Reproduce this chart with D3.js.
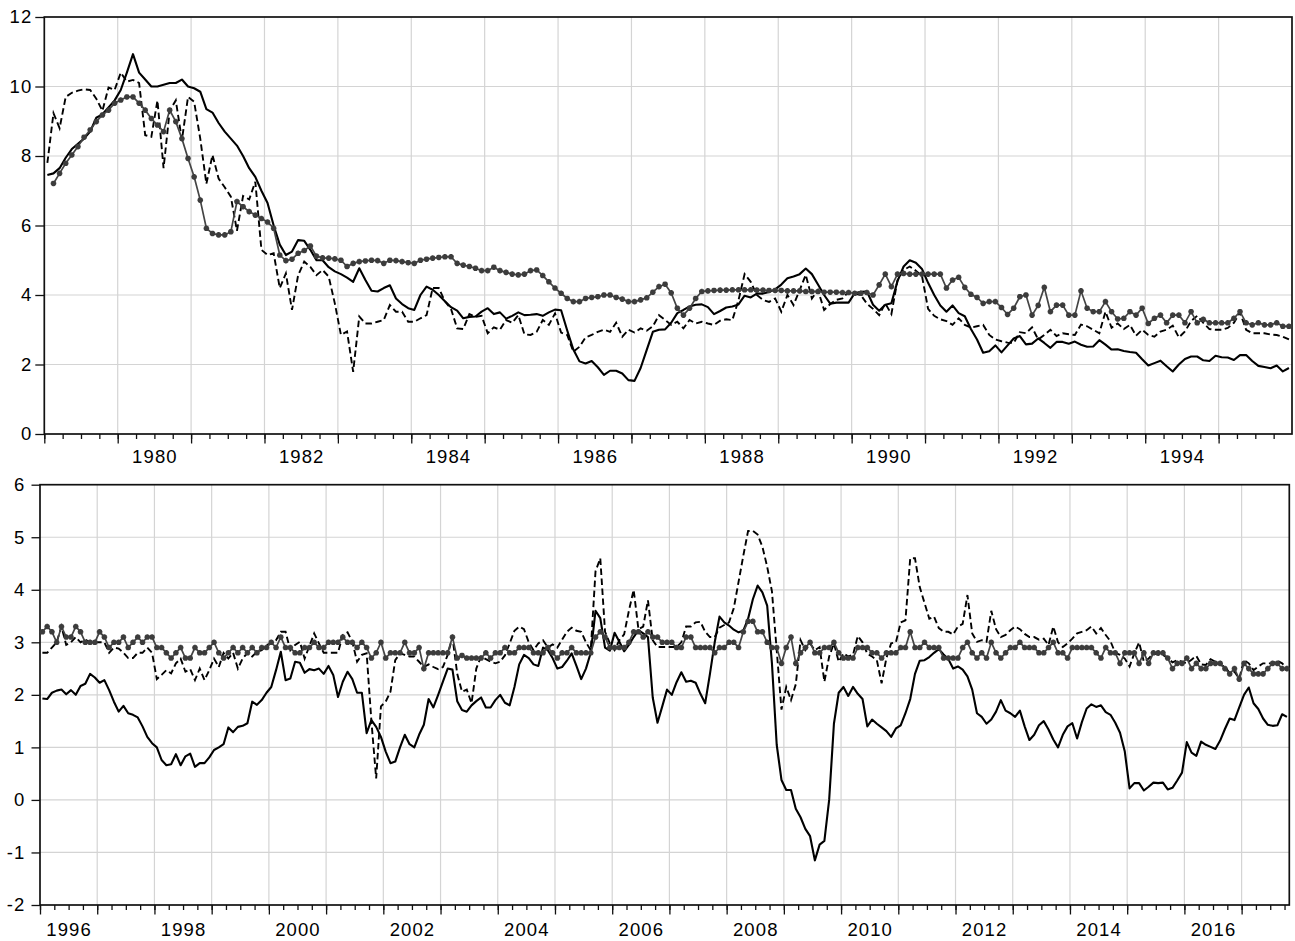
<!DOCTYPE html>
<html>
<head>
<meta charset="utf-8">
<script src="https://cdn.jsdelivr.net/npm/d3@7"></script>
<style>
  body { margin: 0; background: #fff; }
  .chart text { font-family: "Liberation Sans", Arial, Helvetica, sans-serif; font-size: 18.5px; letter-spacing: 1.1px; fill: #000; }
</style>
</head>
<body>
<div class="chart"></div>
<script>
// ---------------------------------------------------------------
// monthly data, one row per year
// top panel: Jan 1979 - Dec 1995
var topStartYear = 1979;
var topSolid = [
  7.45, 7.5, 7.65, 7.95, 8.2, 8.35, 8.5, 8.7, 9.1, 9.2, 9.4, 9.6,
  9.9, 10.4, 10.93, 10.4, 10.2, 10.0, 10.0, 10.05, 10.1, 10.1, 10.2, 10.0,
  9.95, 9.85, 9.35, 9.25, 8.95, 8.7, 8.5, 8.3, 8.0, 7.65, 7.4, 7.0,
  6.65, 6.0, 5.45, 5.15, 5.25, 5.58, 5.56, 5.3, 5.0, 5.0, 4.8, 4.68,
  4.6, 4.5, 4.38, 4.77, 4.43, 4.12, 4.1, 4.2, 4.28, 3.9, 3.74, 3.62,
  3.57, 4.0, 4.24, 4.15, 4.0, 3.82, 3.65, 3.55, 3.33, 3.37, 3.38, 3.52,
  3.62, 3.45, 3.5, 3.32, 3.4, 3.5, 3.42, 3.43, 3.45, 3.4, 3.5, 3.58,
  3.56, 2.98, 2.43, 2.09, 2.03, 2.1, 1.92, 1.7, 1.82, 1.82, 1.74, 1.55,
  1.53, 1.9, 2.42, 2.94, 3.0, 3.01, 3.2, 3.48, 3.57, 3.67, 3.72, 3.73,
  3.65, 3.45, 3.54, 3.64, 3.67, 3.73, 3.98, 3.93, 4.04, 4.04, 4.09, 4.16,
  4.3, 4.48, 4.53, 4.6, 4.76, 4.6, 4.3, 4.0, 3.75, 3.78, 3.78, 3.78,
  4.05, 4.09, 4.1, 3.72, 3.55, 3.72, 3.76, 4.4, 4.82, 5.0, 4.93, 4.75,
  4.35, 4.0, 3.7, 3.52, 3.7, 3.48, 3.39, 3.02, 2.72, 2.34, 2.38, 2.55,
  2.35, 2.55, 2.75, 2.82, 2.58, 2.6, 2.75, 2.62, 2.48, 2.65, 2.65, 2.6,
  2.66, 2.57, 2.51, 2.52, 2.7, 2.57, 2.43, 2.44, 2.39, 2.36, 2.34, 2.15,
  1.97, 2.04, 2.11, 1.95, 1.8, 2.0, 2.16, 2.23, 2.23, 2.12, 2.1, 2.25,
  2.21, 2.2, 2.13, 2.27, 2.27, 2.1, 1.96, 1.93, 1.89, 1.97, 1.8, 1.9
];
var topDashed = [
  7.8, 9.23, 8.8, 9.7, 9.82, 9.88, 9.92, 9.9, 9.65, 9.3, 9.97, 9.9,
  10.4, 10.14, 10.19, 10.1, 8.6, 8.55, 9.6, 7.65, 9.3, 9.6, 8.46, 9.7,
  9.56, 8.5, 7.2, 8.03, 7.35, 7.1, 6.83, 5.85, 6.85, 6.75, 7.26, 5.3,
  5.15, 5.2, 4.2, 4.62, 3.57, 4.57, 4.96, 4.81, 4.57, 4.72, 4.53, 3.76,
  2.85, 2.95, 1.79, 3.38, 3.18, 3.18, 3.23, 3.28, 3.71, 3.52, 3.52, 3.23,
  3.23, 3.33, 3.42, 4.2, 4.2, 3.82, 3.6, 3.04, 3.02, 3.45, 3.37, 3.4,
  2.9, 3.07, 3.0, 3.28, 3.2, 3.42, 2.87, 2.85, 2.94, 3.28, 3.14, 3.47,
  2.92, 2.85, 2.37, 2.51, 2.78, 2.85, 2.94, 3.0, 2.94, 3.2, 2.8, 3.0,
  2.92, 3.04, 2.97, 3.1, 3.42, 3.28, 3.14, 3.23, 3.04, 3.28, 3.18, 3.23,
  3.18, 3.14, 3.26, 3.3, 3.28, 3.85, 4.6, 4.38, 4.0, 3.86, 3.8, 3.9,
  3.52, 4.0, 3.71, 4.14, 4.58, 3.9, 4.14, 3.57, 3.74, 3.86, 3.9, 4.09,
  4.04, 4.0, 3.75, 3.6, 3.42, 3.76, 3.45, 4.43, 4.72, 4.82, 4.7, 4.55,
  3.6, 3.4, 3.3, 3.25, 3.14, 3.33, 3.14, 3.06, 3.1, 3.14, 2.85, 2.72,
  2.67, 2.63, 2.62, 2.93, 2.9, 3.07, 2.72, 2.85, 3.0, 2.82, 2.9, 2.87,
  2.85, 3.15, 3.1, 3.0, 2.9, 3.52, 3.06, 3.18, 3.02, 3.14, 2.83, 3.0,
  2.85, 2.8, 2.95, 3.0, 3.12, 2.78, 2.95, 3.25, 3.4, 3.2, 3.02, 3.0,
  3.0, 3.05, 3.2, 3.5, 3.0, 2.9, 2.9, 2.9, 2.86, 2.85, 2.8, 2.72
];
var topStar = [
  null, 7.21, 7.5, 7.79, 8.03, 8.27, 8.54, 8.75, 8.99, 9.18, 9.32, 9.52,
  9.61, 9.7, 9.7, 9.52, 9.32, 9.08, 8.89, 8.7, 9.32, 8.99, 8.5, 7.93,
  7.4, 6.73, 5.92, 5.77, 5.73, 5.73, 5.82, 6.69, 6.54, 6.4, 6.3, 6.2,
  6.1, 5.92, 5.15, 4.99, 5.03, 5.2, 5.28, 5.41, 5.12, 5.07, 5.06, 5.04,
  5.0, 4.82, 4.91, 4.96, 4.98, 5.0, 4.99, 4.91, 5.0, 4.99, 4.96, 4.93,
  4.91, 5.0, 5.03, 5.06, 5.08, 5.1, 5.1, 4.91, 4.86, 4.82, 4.77, 4.7,
  4.7, 4.8, 4.7, 4.65, 4.6, 4.58, 4.6, 4.7, 4.72, 4.56, 4.38, 4.2,
  4.05, 3.9, 3.81, 3.81, 3.9, 3.93, 3.95, 4.0, 4.0, 3.93, 3.88, 3.81,
  3.81, 3.86, 3.92, 4.08, 4.24, 4.31, 4.06, 3.62, 3.42, 3.62, 3.9, 4.1,
  4.12, 4.13, 4.14, 4.14, 4.15, 4.15, 4.15, 4.15, 4.14, 4.14, 4.13, 4.13,
  4.13, 4.12, 4.12, 4.12, 4.1, 4.1, 4.1, 4.08, 4.08, 4.08, 4.07, 4.07,
  4.05, 4.05, 4.07, 4.0, 4.29, 4.6, 4.24, 4.6, 4.62, 4.6, 4.6, 4.6,
  4.6, 4.6, 4.6, 4.2, 4.43, 4.51, 4.22, 4.02, 3.93, 3.76, 3.81, 3.81,
  3.64, 3.44, 3.62, 3.95, 4.0, 3.42, 3.7, 4.22, 3.52, 3.71, 3.71, 3.42,
  3.42, 4.12, 3.62, 3.52, 3.52, 3.81, 3.52, 3.31, 3.33, 3.52, 3.42, 3.62,
  3.18, 3.33, 3.42, 3.2, 3.42, 3.42, 3.2, 3.52, 3.2, 3.3, 3.2, 3.2,
  3.2, 3.2, 3.33, 3.52, 3.2, 3.14, 3.2, 3.14, 3.14, 3.2, 3.1, 3.1
];

// bottom panel: Jan 1996 - Oct 2017
var bottomStartYear = 1996;
var bottomSolid = [
  1.93, 1.92, 2.04, 2.08, 2.1, 2.01, 2.09, 2.0, 2.17, 2.21, 2.4, 2.33,
  2.23, 2.28, 2.09, 1.87, 1.68, 1.79, 1.65, 1.62, 1.57, 1.4, 1.2, 1.08,
  1.0, 0.76, 0.66, 0.68, 0.87, 0.66, 0.83, 0.88, 0.63, 0.7, 0.7, 0.81,
  0.95, 1.0, 1.06, 1.38, 1.29, 1.39, 1.41, 1.46, 1.87, 1.81, 1.9, 2.04,
  2.15, 2.47, 2.82, 2.28, 2.31, 2.63, 2.61, 2.42, 2.49, 2.47, 2.5, 2.4,
  2.55, 2.38, 1.96, 2.25, 2.44, 2.3, 2.04, 2.04, 1.27, 1.52, 1.39, 1.2,
  0.92, 0.7, 0.73, 1.0, 1.24, 1.06, 1.0, 1.24, 1.43, 1.92, 1.76, 2.0,
  2.25, 2.5, 2.48, 1.88, 1.71, 1.68, 1.8, 1.88, 1.95, 1.76, 1.76, 1.9,
  2.0, 1.85, 1.8, 2.15, 2.58, 2.76, 2.7, 2.58, 2.55, 2.9, 2.85, 2.7,
  2.5, 2.53, 2.65, 2.79, 2.55, 2.3, 2.5, 2.8, 3.6, 3.46, 2.9, 2.84,
  3.18, 3.01, 2.83, 2.95, 3.1, 3.23, 3.17, 3.1, 1.95, 1.47, 1.78, 2.1,
  2.0, 2.24, 2.43, 2.25, 2.27, 2.23, 2.02, 1.84, 2.4, 3.0, 3.49, 3.38,
  3.32, 3.24, 3.19, 3.22, 3.45, 3.82, 4.08, 3.95, 3.7, 2.6, 1.05, 0.38,
  0.19, 0.19, -0.17, -0.33, -0.55, -0.69, -1.15, -0.85, -0.78, 0.0, 1.45, 2.04,
  2.15, 1.98, 2.15, 2.02, 1.92, 1.4, 1.53, 1.45, 1.38, 1.31, 1.2, 1.36,
  1.42, 1.65, 1.92, 2.4, 2.65, 2.66, 2.72, 2.8, 2.87, 2.77, 2.68, 2.5,
  2.54, 2.48, 2.35, 2.1, 1.65, 1.58, 1.45, 1.53, 1.68, 1.9, 1.7, 1.65,
  1.58, 1.7, 1.4, 1.14, 1.24, 1.42, 1.5, 1.34, 1.15, 1.0, 1.24, 1.4,
  1.46, 1.17, 1.48, 1.74, 1.82, 1.77, 1.8, 1.67, 1.62, 1.47, 1.28, 0.92,
  0.22, 0.32, 0.32, 0.18, 0.25, 0.33, 0.32, 0.33, 0.2, 0.23, 0.37, 0.52,
  1.1, 0.9, 0.84, 1.11, 1.05, 1.01, 0.97, 1.13, 1.35, 1.55, 1.52, 1.76,
  2.0, 2.14, 1.84, 1.73, 1.55, 1.43, 1.41, 1.42, 1.63, 1.58
];
var bottomDashed = [
  2.8, 2.8, 2.9, 3.0, 3.3, 2.95, 3.0, 3.1, 3.0, 3.05, 3.0, 3.0,
  3.0, 3.0, 2.8, 2.9, 2.88, 2.8, 2.7, 2.7, 2.8, 2.8, 2.9, 2.8,
  2.3, 2.38, 2.47, 2.41, 2.6, 2.69, 2.44, 2.49, 2.28, 2.5, 2.28, 2.47,
  2.69, 2.53, 2.8, 2.69, 2.8, 2.5, 2.69, 2.8, 2.73, 2.82, 2.85, 2.95,
  2.98, 3.04, 3.2, 3.2, 2.85, 2.95, 3.01, 2.69, 2.93, 3.17, 2.98, 2.8,
  2.8, 2.8, 2.8, 3.14, 3.19, 3.01, 2.63, 2.76, 2.79, 1.5, 0.41, 1.78,
  1.87, 2.06, 2.66, 2.79, 2.76, 2.73, 2.73, 2.63, 2.53, 2.58, 2.53, 2.49,
  2.53, 2.76, 3.1, 2.4, 2.06, 2.1, 1.84, 2.5, 2.73, 2.68, 2.63, 2.6,
  2.63, 2.75, 2.98, 3.22, 3.3, 3.25, 3.0, 2.85, 2.98, 3.04, 2.9, 2.96,
  2.9, 3.05, 3.2, 3.28, 3.22, 3.2, 3.0, 2.85, 4.35, 4.6, 3.2, 2.98,
  2.85, 3.04, 3.15, 3.6, 4.0, 3.25, 3.3, 3.8, 3.04, 2.91, 2.91, 2.91,
  2.91, 2.91, 3.0, 3.3, 3.3, 3.38, 3.39, 3.2, 3.1, 3.1, 3.28, 3.33,
  3.38, 3.65, 4.15, 4.65, 5.12, 5.12, 5.05, 4.82, 4.44, 3.97, 2.85, 1.72,
  2.15, 1.9, 2.2, 3.04, 2.85, 2.98, 2.85, 2.91, 2.25, 2.73, 2.98, 2.63,
  2.79, 2.73, 2.76, 3.12, 3.0, 2.78, 2.73, 2.66, 2.22, 2.7, 2.98, 3.0,
  3.38, 3.42, 4.6, 4.6, 4.05, 3.75, 3.45, 3.49, 3.27, 3.2, 3.2, 3.15,
  3.3, 3.35, 3.9, 3.17, 3.01, 3.04, 3.01, 3.6, 3.25, 3.1, 3.14, 3.23,
  3.3, 3.25, 3.16, 3.1, 3.1, 3.05, 3.07, 2.95, 3.3, 3.0, 2.91, 2.98,
  3.07, 3.17, 3.2, 3.23, 3.3, 3.17, 3.27, 3.14, 3.02, 2.8, 2.76, 2.69,
  2.54, 2.79, 3.0, 2.63, 2.69, 2.79, 2.76, 2.76, 2.7, 2.62, 2.66, 2.63,
  2.6, 2.67, 2.74, 2.58, 2.57, 2.68, 2.63, 2.57, 2.54, 2.41, 2.44, 2.31,
  2.66, 2.6, 2.47, 2.54, 2.6, 2.6, 2.6, 2.65, 2.6, 2.5
];
var bottomStar = [
  3.2, 3.3, 3.2, 3.0, 3.3, 3.1, 3.1, 3.3, 3.2, 3.0, 3.0, 3.0,
  3.2, 3.1, 2.9, 3.0, 3.0, 3.1, 2.9, 3.0, 3.1, 3.0, 3.1, 3.1,
  2.9, 2.9, 2.8, 2.7, 2.8, 2.9, 2.7, 2.7, 2.9, 2.8, 2.8, 2.9,
  3.0, 2.8, 2.7, 2.8, 2.9, 2.8, 2.9, 2.8, 2.9, 2.8, 2.9, 2.9,
  3.0, 2.9, 3.1, 2.9, 2.9, 2.8, 2.8, 2.9, 2.9, 3.0, 2.9, 2.9,
  3.0, 3.0, 3.0, 3.1, 3.0, 3.0, 2.9, 3.0, 2.9, 2.7, 2.8, 3.0,
  2.7, 2.8, 2.8, 2.8, 3.0, 2.8, 2.8, 2.9, 2.5, 2.8, 2.8, 2.8,
  2.8, 2.8, 3.1, 2.7, 2.75, 2.7, 2.7, 2.7, 2.7, 2.8, 2.7, 2.8,
  2.8, 2.9, 2.8, 2.8, 2.9, 2.9, 2.9, 2.8, 2.8, 2.8, 2.9, 2.8,
  2.7, 2.8, 2.8, 2.9, 2.8, 2.8, 2.8, 2.8, 3.1, 3.2, 3.1, 2.9,
  2.9, 2.9, 2.9, 3.0, 3.2, 3.2, 3.1, 3.2, 3.1, 3.1, 3.0, 3.0,
  3.0, 2.9, 2.9, 3.1, 3.1, 2.9, 2.9, 2.9, 2.9, 2.8, 2.9, 2.9,
  3.0, 3.0, 2.9, 3.2, 3.4, 3.4, 3.2, 3.2, 3.0, 2.9, 2.9, 2.6,
  2.9, 3.1, 2.6, 2.8, 2.9, 3.0, 2.8, 2.8, 2.9, 2.9, 3.0, 2.8,
  2.7, 2.7, 2.7, 2.9, 2.9, 2.9, 2.8, 2.8, 2.7, 2.8, 2.8, 2.8,
  2.9, 2.9, 3.2, 2.9, 2.9, 3.0, 2.9, 2.9, 2.9, 2.7, 2.7, 2.7,
  2.7, 2.9, 3.0, 2.8, 2.7, 2.8, 2.7, 3.0, 2.8, 2.7, 2.8, 2.9,
  2.9, 3.0, 2.9, 2.9, 2.9, 2.8, 2.8, 2.9, 3.0, 2.8, 2.8, 2.7,
  2.9, 2.9, 2.9, 2.9, 2.9, 2.8, 2.7, 2.9, 2.8, 2.8, 2.6, 2.8,
  2.8, 2.8, 2.6, 2.8, 2.6, 2.8, 2.8, 2.8, 2.7, 2.5, 2.6, 2.6,
  2.7, 2.5, 2.6, 2.5, 2.5, 2.6, 2.6, 2.6, 2.5, 2.4, 2.5, 2.3,
  2.6, 2.5, 2.4, 2.4, 2.4, 2.5, 2.6, 2.6, 2.5, 2.5
];

// axis ticks / labels
var topYTicks = [0, 2, 4, 6, 8, 10, 12];
var bottomYTicks = [-2, -1, 0, 1, 2, 3, 4, 5, 6];
var topYearLabels = [1980, 1982, 1984, 1986, 1988, 1990, 1992, 1994];
var bottomYearLabels = [1996, 1998, 2000, 2002, 2004, 2006, 2008, 2010, 2012, 2014, 2016];

// ---------------------------------------------------------------
var svgWidth = 1295;
var svgHeight = 941;

var svg = d3.select(".chart")
  .append("svg")
  .attr("width", svgWidth)
  .attr("height", svgHeight);

// monthly observation -> point at the middle of the month
function toPoints(startYear, values) {
  return values.map(function(v, i) {
    return { t: startYear + (i + 0.5) / 12, v: v };
  });
}

// little eight-armed star used as marker
var starPath = "M-2.8,0L2.8,0M0,-2.8L0,2.8M-2,-2L2,2M-2,2L2,-2";

function drawPanel(p) {
  var x = d3.scaleLinear().domain(p.xDomain).range([p.left, p.right]);
  var y = d3.scaleLinear().domain(p.yDomain).range([p.bottom, p.top]);
  var g = svg.append("g");

  // gridlines
  g.selectAll(".hgrid")
    .data(p.yTicks.slice(1, -1))
    .enter()
    .append("line")
    .attr("x1", p.left).attr("x2", p.right)
    .attr("y1", d => y(d)).attr("y2", d => y(d))
    .attr("stroke", "#d4d4d4")
    .attr("stroke-width", 1.2);

  var yearStarts = d3.range(p.xDomain[0] + 1, Math.ceil(p.xDomain[1]));
  g.selectAll(".vgrid")
    .data(yearStarts)
    .enter()
    .append("line")
    .attr("x1", d => x(d)).attr("x2", d => x(d))
    .attr("y1", p.top).attr("y2", p.bottom)
    .attr("stroke", "#d4d4d4")
    .attr("stroke-width", 1.2);

  // x axis: quarter ticks, year ticks, labels at mid-year
  var quarters = d3.range(p.xDomain[0], p.xDomain[1], 0.25);
  var minorAxis = d3.axisBottom(x).tickValues(quarters).tickSize(5).tickSizeOuter(0).tickFormat("");
  var majorAxis = d3.axisBottom(x).tickValues([p.xDomain[0]].concat(yearStarts)).tickSize(9.5).tickSizeOuter(0).tickFormat("");
  var labelAxis = d3.axisBottom(x).tickValues(p.yearLabels.map(d => d + 0.5)).tickSize(0)
    .tickPadding(p.xLabelPad).tickFormat(d => Math.floor(d));

  [minorAxis, majorAxis, labelAxis].forEach(function(ax) {
    var a = g.append("g")
      .attr("transform", `translate(0, ${p.bottom})`)
      .call(ax);
    a.select(".domain").remove();
    a.selectAll("line").attr("stroke", "#111").attr("stroke-width", 1.3);
  });

  // y axis (plain hyphen for negatives)
  var leftAxis = d3.axisLeft(y).tickValues(p.yTicks).tickSize(p.yTickSize).tickSizeOuter(0)
    .tickPadding(p.yLabelPad).tickFormat(d => String(d));
  var ly = g.append("g")
    .attr("transform", `translate(${p.left}, 0)`)
    .call(leftAxis);
  ly.select(".domain").remove();
  ly.selectAll("line").attr("stroke", "#111").attr("stroke-width", 1.3);

  // frame
  g.append("rect")
    .attr("x", p.left).attr("y", p.top)
    .attr("width", p.right - p.left).attr("height", p.bottom - p.top)
    .attr("fill", "none")
    .attr("stroke", "#111")
    .attr("stroke-width", 1.7);

  var line = d3.line()
    .defined(d => d.v != null)
    .x(d => x(d.t))
    .y(d => y(d.v));

  // series 1: solid
  g.append("path")
    .datum(toPoints(p.start, p.solid))
    .attr("d", line)
    .attr("fill", "none")
    .attr("stroke", "#000")
    .attr("stroke-width", 2.1)
    .attr("stroke-linejoin", "round");

  // series 2: dashed
  g.append("path")
    .datum(toPoints(p.start, p.dashed))
    .attr("d", line)
    .attr("fill", "none")
    .attr("stroke", "#000")
    .attr("stroke-width", 1.9)
    .attr("stroke-dasharray", "6.5,3.5");

  // series 3: grey line with star markers
  var starData = toPoints(p.start, p.star);
  g.append("path")
    .datum(starData)
    .attr("d", line)
    .attr("fill", "none")
    .attr("stroke", "#444")
    .attr("stroke-width", 1.7);

  g.selectAll(".star")
    .data(starData.filter(d => d.v != null))
    .enter()
    .append("path")
    .attr("transform", d => `translate(${x(d.t)}, ${y(d.v)})`)
    .attr("d", starPath)
    .attr("fill", "none")
    .attr("stroke", "#3c3c3c")
    .attr("stroke-width", 1.8);
}

drawPanel({
  left: 44.3, right: 1292, top: 17, bottom: 434,
  xDomain: [1979, 1996], yDomain: [0, 12],
  yTicks: topYTicks, yearLabels: topYearLabels,
  yTickSize: 9, yLabelPad: 3, xLabelPad: 16,
  start: topStartYear, solid: topSolid, dashed: topDashed, star: topStar
});

drawPanel({
  left: 40, right: 1289.3, top: 484.7, bottom: 905,
  xDomain: [1996, 2017 + 10 / 12], yDomain: [-2, 6],
  yTicks: bottomYTicks, yearLabels: bottomYearLabels,
  yTickSize: 8.5, yLabelPad: 6, xLabelPad: 18,
  start: bottomStartYear, solid: bottomSolid, dashed: bottomDashed, star: bottomStar
});
</script>
</body>
</html>
